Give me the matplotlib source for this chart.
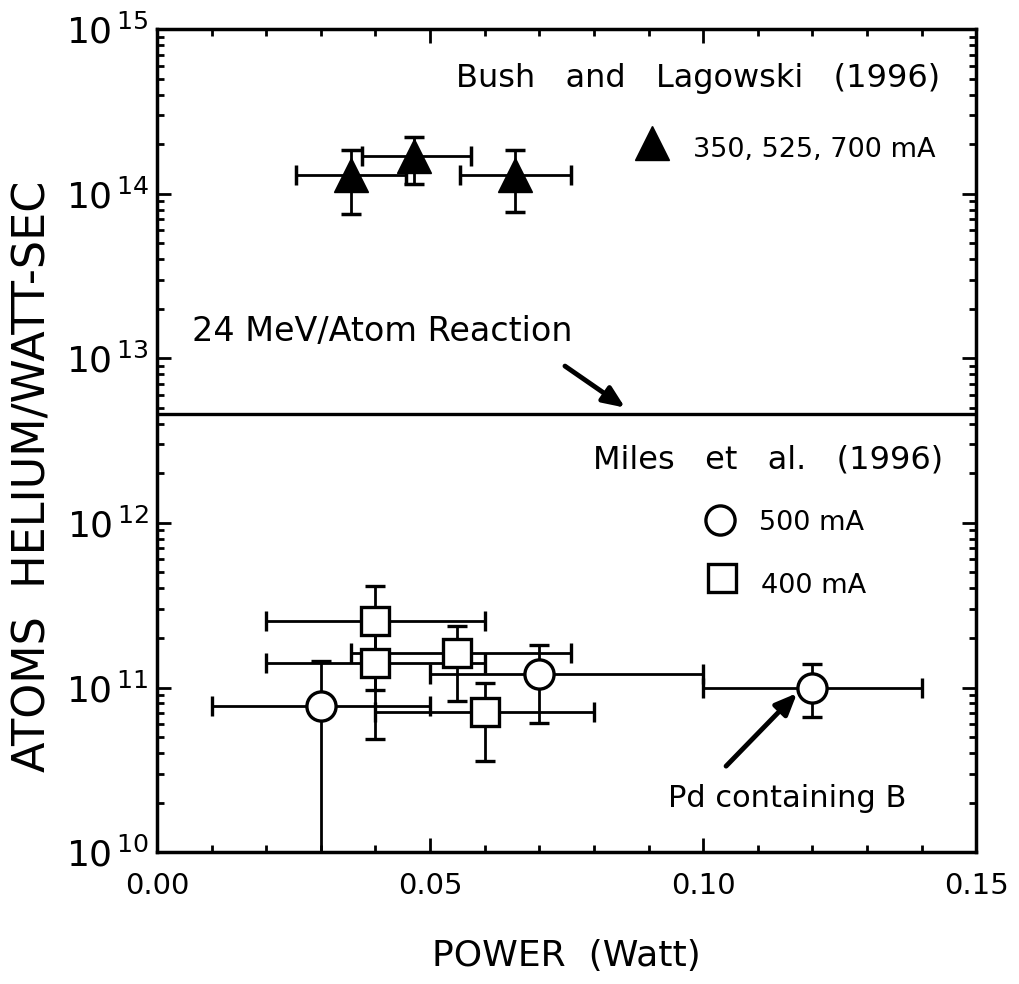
import numpy as np
import matplotlib
matplotlib.use('Agg')
from matplotlib import pyplot as plt
from matplotlib.ticker import FixedLocator, MultipleLocator, NullFormatter

# Bush and Lagowski (1996), 350/525/700 mA
bush_power = [0.0355, 0.047, 0.0655]
bush_pwr_lo = [0.0255, 0.0375, 0.0555]
bush_pwr_hi = [0.0455, 0.0575, 0.0758]
bush_he = [1.30e14, 1.70e14, 1.30e14]
bush_he_lo = [7.5e13, 1.14e14, 7.7e13]
bush_he_hi = [1.84e14, 2.22e14, 1.84e14]

# Miles et al. (1996), 500 mA (circles)
c_power = [0.030, 0.070, 0.120]
c_pwr_lo = [0.010, 0.050, 0.100]
c_pwr_hi = [0.050, 0.100, 0.140]
c_he = [7.7e10, 1.20e11, 1.0e11]
c_he_lo = [1e9, 6.1e10, 6.6e10]
c_he_hi = [1.45e11, 1.81e11, 1.38e11]

# Miles et al. (1996), 400 mA (squares)
s_power = [0.040, 0.040, 0.055, 0.060]
s_pwr_lo = [0.020, 0.020, 0.0355, 0.040]
s_pwr_hi = [0.060, 0.060, 0.0758, 0.080]
s_he = [2.53e11, 1.40e11, 1.61e11, 7.06e10]
s_he_lo = [9.6e10, 4.9e10, 8.3e10, 3.6e10]
s_he_hi = [4.13e11, 2.1e11, 2.36e11, 1.07e11]

reaction_level = 4.56e12

plt.rcParams['font.family'] = 'DejaVu Sans'

fig = plt.figure(figsize=(10.2, 9.84), dpi=100)
ax = fig.add_axes([0.154, 0.134, 0.803, 0.8365])


def errs(v, lo, hi):
    v = np.array(v)
    return [v - np.array(lo), np.array(hi) - v]


ebkw = dict(ecolor='black', elinewidth=2, capsize=7, capthick=2.5, linestyle='none')

ax.errorbar(s_power, s_he, xerr=errs(s_power, s_pwr_lo, s_pwr_hi),
            yerr=errs(s_he, s_he_lo, s_he_hi), marker='s', ms=20.5,
            mfc='white', mec='black', mew=2.4, zorder=3, **ebkw)
ax.errorbar(c_power, c_he, xerr=errs(c_power, c_pwr_lo, c_pwr_hi),
            yerr=errs(c_he, c_he_lo, c_he_hi), marker='o', ms=21,
            mfc='white', mec='black', mew=2.4, zorder=3, **ebkw)
ax.errorbar(bush_power, bush_he, xerr=errs(bush_power, bush_pwr_lo, bush_pwr_hi),
            yerr=errs(bush_he, bush_he_lo, bush_he_hi), marker='^', ms=24,
            mfc='black', mec='black', zorder=3, **ebkw)

ax.axhline(reaction_level, color='black', lw=2.4)

ax.set_yscale('log')
ax.set_xlim(0, 0.15)
ax.set_ylim(1e10, 1e15)

ax.xaxis.set_major_locator(FixedLocator([0.0, 0.05, 0.10, 0.15]))
ax.xaxis.set_minor_locator(MultipleLocator(0.01))
ax.set_xticklabels(['0.00', '0.05', '0.10', '0.15'])
ax.set_yticks([1e10, 1e11, 1e12, 1e13, 1e14, 1e15])
ax.set_yticklabels([r'$\mathregular{10^{\,%d}}$' % e for e in range(10, 16)])
ax.yaxis.set_minor_formatter(NullFormatter())

ax.tick_params(which='both', direction='in', top=True, right=True, width=2)
ax.tick_params(which='major', length=10)
ax.tick_params(which='minor', length=5)
ax.tick_params(axis='y', labelsize=26, pad=6)
ax.tick_params(axis='x', labelsize=21, pad=14)
for s in ax.spines.values():
    s.set_linewidth(2.5)

ax.set_xlabel('POWER  (Watt)', fontsize=26)
ax.xaxis.set_label_coords(0.5, -0.106)
ax.set_ylabel('ATOMS  HELIUM/WATT-SEC', fontsize=32)
ax.yaxis.set_label_coords(-0.125, 0.457)

# annotations
ax.text(0.956, 0.930, 'Bush   and   Lagowski   (1996)', transform=ax.transAxes,
        fontsize=23, ha='right', va='baseline')
ax.text(0.0427, 0.621, '24 MeV/Atom Reaction', transform=ax.transAxes,
        fontsize=24, ha='left', va='baseline')
ax.text(0.960, 0.4666, 'Miles   et   al.   (1996)', transform=ax.transAxes,
        fontsize=23, ha='right', va='baseline')
ax.text(0.624, 0.055, 'Pd containing B', transform=ax.transAxes,
        fontsize=22, ha='left', va='baseline')

# legend-like entries
ax.plot([0.604], [0.8615], transform=ax.transAxes, marker='^', ms=24,
        color='black', linestyle='none')
ax.text(0.654, 0.845, '350, 525, 700 mA', transform=ax.transAxes,
        fontsize=19.5, ha='left', va='baseline')
ax.plot([0.687], [0.4034], transform=ax.transAxes, marker='o', ms=21,
        mfc='white', mec='black', mew=2.4, linestyle='none')
ax.text(0.735, 0.391, '500 mA', transform=ax.transAxes,
        fontsize=19.5, ha='left', va='baseline')
ax.plot([0.690], [0.333], transform=ax.transAxes, marker='s', ms=20.5,
        mfc='white', mec='black', mew=2.4, linestyle='none')
ax.text(0.7375, 0.3147, '400 mA', transform=ax.transAxes,
        fontsize=19.5, ha='left', va='baseline')

# arrows
ax.annotate('', xy=(0.5714, 0.540), xytext=(0.498, 0.5905),
            xycoords='axes fraction',
            arrowprops=dict(arrowstyle='-|>,head_length=1.3,head_width=0.55',
                            color='black', lw=3.5, shrinkA=0, shrinkB=0))
ax.annotate('', xy=(0.7814, 0.1932), xytext=(0.6947, 0.1045),
            xycoords='axes fraction',
            arrowprops=dict(arrowstyle='-|>,head_length=1.3,head_width=0.55',
                            color='black', lw=3.5, shrinkA=0, shrinkB=0))

fig.savefig('out.png', dpi=100)
